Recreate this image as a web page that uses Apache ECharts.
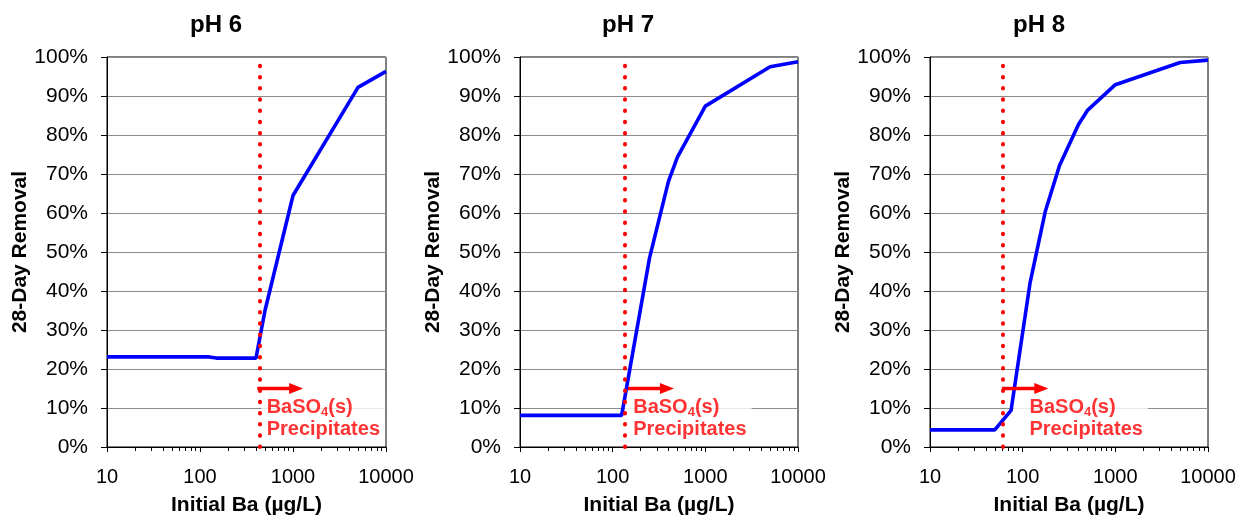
<!DOCTYPE html>
<html><head><meta charset="utf-8">
<script src="https://cdn.jsdelivr.net/npm/echarts@6/dist/echarts.min.js"></script>
<style>html,body{margin:0;padding:0;background:#fff}#c{width:1242px;height:521px}</style>
</head><body><div id="c"></div>
<script>
// ---- data ----
const panelTitles = ['pH 6', 'pH 7', 'pH 8'];
const xTickLabels = ['10', '100', '1000', '10000'];
const xAxisTitle = 'Initial Ba (µg/L)';
const yAxisTitle = '28-Day Removal';

const ph6Ba      = [10, 125, 150, 400, 500, 1000, 5000, 10000];
const ph6Removal = [23.1, 23.1, 22.8, 22.8, 35.0, 64.5, 92.2, 96.3];
const ph7Ba      = [10, 125, 250, 400, 500, 1000, 5000, 10000];
const ph7Removal = [8.1, 8.1, 48.5, 68.1, 74.3, 87.4, 97.5, 98.8];
const ph8Ba      = [10, 50, 75, 120, 175, 250, 400, 500, 1000, 5000, 10000];
const ph8Removal = [4.4, 4.4, 9.4, 42.0, 60.3, 72.2, 82.7, 86.3, 92.9, 98.6, 99.2];

// BaSO4 precipitation threshold (initial Ba, µg/L)
const precipBa = [440, 134, 60.5];
// annotation anchors (data units)
const arrowStartBa = [413, 146, 59.7];
const arrowEndBa   = [1080, 385, 159];
const arrowRemoval = 15;
const noteBa       = [460, 136.5, 79.6];
const noteRemoval  = 7.3;

// ---- chart ----
const FONT = '"Liberation Sans", Arial, sans-serif';
const gridLefts = [107, 520, 930];
const gridWidths = [279, 278, 278];
const titleCenters = [216, 628, 1039];
const notePadLeft = [5, 8, 16];
const seriesBa = [ph6Ba, ph7Ba, ph8Ba];
const seriesRemoval = [ph6Removal, ph7Removal, ph8Removal];

const grids = [], xAxes = [], yAxes = [], series = [], titles = [];
for (let i = 0; i < 3; i++) {
  grids.push({left: gridLefts[i], top: 57, width: gridWidths[i], height: 394,
    show: true, borderColor: '#000', borderWidth: 1, backgroundColor: 'transparent'});
  titles.push({text: panelTitles[i], left: titleCenters[i], top: 13, textAlign: 'center', padding: 0,
    textStyle: {fontSize: 24, fontWeight: 'bold', color: '#000', fontFamily: FONT}});
  xAxes.push({type: 'log', logBase: 10, min: 10, max: 10000, gridIndex: i,
    name: xAxisTitle, nameLocation: 'middle', nameGap: 48,
    nameTextStyle: {fontSize: 21, fontWeight: 'bold', color: '#000', fontFamily: FONT},
    axisLine: {show: true, lineStyle: {color: '#000', width: 1}},
    axisTick: {show: true, length: 5, lineStyle: {color: '#000'}},
    minorTick: {show: true, splitNumber: 9, length: 4, lineStyle: {color: '#000'}},
    splitLine: {show: false}, minorSplitLine: {show: false},
    axisLabel: {fontSize: 20, color: '#000', fontFamily: FONT, margin: 20,
      formatter: v => { const k = Math.round(Math.log10(v)) - 1; return xTickLabels[k] ?? String(v); }}
  });
  yAxes.push({type: 'value', min: 0, max: 100, interval: 10, gridIndex: i,
    name: yAxisTitle, nameLocation: 'middle', nameGap: 73,
    nameTextStyle: {fontSize: 21, fontWeight: 'bold', color: '#000', fontFamily: FONT},
    axisLine: {show: true, lineStyle: {color: '#000', width: 1}},
    axisTick: {show: true, length: 6, lineStyle: {color: '#000'}},
    splitLine: {show: true, lineStyle: {color: '#8c8c8c', width: 1}},
    axisLabel: {fontSize: 21, color: '#000', fontFamily: FONT, margin: 19, formatter: '{value}%'}
  });
  // annotation text box (below curves)
  series.push({type: 'scatter', xAxisIndex: i, yAxisIndex: i, z: 1, silent: true, animation: false,
    symbolSize: 0, data: [[noteBa[i], noteRemoval]],
    label: {show: true, position: 'right', distance: 0, backgroundColor: '#fff',
      padding: [2, 5, 2, notePadLeft[i]],
      formatter: '{a|BaSO}{s|4}{a|(s)}\n{a|Precipitates}',
      rich: {
        a: {fontSize: 20, fontWeight: 'bold', color: '#ff0000', fontFamily: FONT, lineHeight: 22},
        s: {fontSize: 13, fontWeight: 'bold', color: '#ff0000', fontFamily: FONT, lineHeight: 8, verticalAlign: 'bottom'}
      }}
  });
  // data curve
  series.push({type: 'line', xAxisIndex: i, yAxisIndex: i, z: 3, silent: true, animation: false,
    showSymbol: false, symbol: 'none',
    lineStyle: {color: '#0000ff', width: 3.6},
    data: seriesBa[i].map((b, k) => [b, seriesRemoval[i][k]])
  });
  // precipitation threshold line + arrow
  series.push({type: 'line', xAxisIndex: i, yAxisIndex: i, z: 5, silent: true, animation: false,
    symbol: 'none', lineStyle: {opacity: 0}, data: [[precipBa[i], 0]],
    markLine: {silent: true, animation: false, symbol: 'none', label: {show: false},
      data: [
        {xAxis: precipBa[i], lineStyle: {color: '#ff0000', width: 4, type: [0.5, 10.7], cap: 'round'}},
        [{coord: [arrowStartBa[i], arrowRemoval], symbol: 'none'},
         {coord: [arrowEndBa[i], arrowRemoval], symbol: 'triangle', symbolSize: [11, 14],
          lineStyle: {color: '#ff0000', width: 3.3, type: 'solid'}}]
      ],
      lineStyle: {color: '#ff0000'}
    }
  });
}

const chart = echarts.init(document.getElementById('c'), null, {renderer: 'canvas'});
chart.setOption({
  backgroundColor: '#fff', animation: false,
  title: titles, grid: grids, xAxis: xAxes, yAxis: yAxes, series: series
});
</script></body></html>
